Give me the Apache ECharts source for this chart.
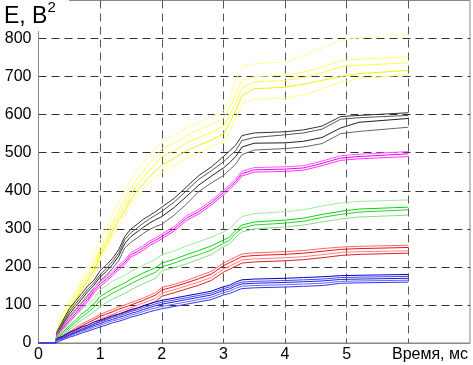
<!DOCTYPE html>
<html><head><meta charset="utf-8">
<script src="https://cdn.jsdelivr.net/npm/echarts@6/dist/echarts.min.js"></script>
<style>html,body{margin:0;padding:0;background:#fff}#c{width:473px;height:365px}</style>
</head><body><div id="c"></div>
<script>
const xs = [0,0.28,0.3,0.4,0.5,0.6,0.7,0.8,0.9,1.0,1.1,1.2,1.3,1.4,1.5,1.6,1.7,1.8,1.9,2.0,2.2,2.4,2.6,2.8,3.0,3.1,3.2,3.3,3.5,4.0,4.3,4.6,4.9,5.2,6.0];
const yTicks = [0,100,200,300,400,500,600,700,800];
const xTicks = [0,1,2,3,4,5];

const yellow1 = [0,0,40,80,110,140,170,200,230,270,300,340,370,400,430,455,475,495,510,530,545,565,580,595,610,640,690,725,734,738,755,775,795,802,812];
const yellow2 = [0,0,35,70,100,130,158,185,212,250,280,318,348,378,408,432,452,472,490,510,525,545,560,575,590,618,655,690,700,704,712,725,742,746,752];
const yellow3 = [0,0,30,62,92,120,148,175,200,240,268,305,335,362,392,416,435,455,470,490,505,525,540,553,570,598,632,670,686,690,698,710,726,730,736];
const yellow4 = [0,0,25,55,84,112,140,165,190,230,258,292,322,348,378,400,418,438,452,468,485,505,520,533,550,578,612,650,668,672,680,690,700,708,716];
const yellow5 = [0,0,20,48,76,102,130,155,178,218,245,280,308,335,365,386,404,422,436,448,465,486,500,515,530,556,590,628,640,644,652,668,685,695,705];

const black1 = [0,0,30,60,90,110,130,150,165,190,205,222,245,280,300,312,325,335,345,357,380,410,440,462,490,505,520,545,552,555,560,570,595,598,605];
const black2 = [0,0,26,55,82,103,122,142,158,180,196,214,236,272,290,302,315,326,336,346,370,400,430,452,476,491,506,532,540,547,552,562,588,592,598];
const black3 = [0,0,22,50,75,96,115,135,152,173,188,206,228,262,280,292,304,315,324,332,356,385,415,438,460,474,490,515,525,526,530,540,565,580,590];
const black4 = [0,0,18,44,68,88,106,126,144,163,178,196,216,250,265,276,288,298,306,312,336,365,398,420,440,455,470,495,507,511,515,524,550,556,567];

const magenta1 = [0,0,24,45,66,84,104,121,144,161,174,189,204,218,238,246,256,268,276,286,306,334,351,374,401,416,431,451,461,463,466,478,492,496,503];
const magenta2 = [0,0,20,40,60,78,98,115,138,155,168,183,198,212,232,240,250,262,270,280,300,328,345,368,395,410,425,445,455,457,460,472,486,490,497];
const magenta3 = [0,0,17,36,55,73,92,109,132,149,162,177,192,206,226,234,244,256,264,274,294,322,339,362,389,404,419,439,449,451,454,466,480,484,490];

const green1 = [0,0,18,35,52,70,88,100,118,140,150,162,170,178,188,196,205,212,220,232,242,255,266,278,292,300,318,332,340,345,350,360,368,372,376];
const green2 = [0,0,15,30,45,60,76,88,103,122,132,142,150,158,168,176,184,191,198,210,220,232,243,255,270,278,296,310,318,323,328,338,346,352,357];
const green3 = [0,0,12,26,40,54,68,80,94,112,121,131,139,147,156,164,172,179,186,200,210,222,232,244,262,270,288,302,310,315,320,330,338,344,350];
const green4 = [0,0,10,22,35,47,60,70,82,96,106,115,123,130,140,148,156,163,170,190,198,208,220,232,253,261,278,292,300,305,310,318,326,331,336];

const red1 = [0,0,12,20,30,40,50,58,66,75,82,88,95,100,106,112,118,125,132,146,154,164,176,188,210,218,226,234,237,240,243,248,252,254,257];
const red2 = [0,0,10,18,27,36,45,53,61,70,76,82,89,94,100,106,112,119,126,139,148,158,169,181,203,211,219,227,230,233,236,241,246,248,251];
const red3 = [0,0,8,15,24,32,40,47,55,63,69,75,82,87,93,99,105,111,117,131,140,150,160,172,194,202,210,218,221,224,227,232,238,240,242];
const red4 = [0,0,6,12,20,28,35,42,50,58,63,69,75,80,86,91,97,103,109,123,132,142,152,164,186,194,202,210,213,216,219,224,230,233,236];

const blue1 = [0,0,12,18,28,34,42,47,55,60,66,72,76,82,88,92,98,103,108,112,118,124,130,136,148,152,160,166,168,170,172,174,177,178,180];
const blue2 = [0,0,10,15,24,30,37,43,50,55,61,67,71,77,83,87,93,98,103,107,113,119,125,131,143,147,155,160,162,164,166,168,172,173,175];
const blue3 = [0,0,8,13,21,27,33,39,46,51,57,62,67,72,78,82,88,93,98,102,108,114,120,126,138,142,150,155,157,159,161,163,167,168,170];
const blue4 = [0,0,7,11,18,24,30,35,42,47,52,58,62,67,73,77,83,88,92,96,102,108,114,120,132,136,144,149,151,153,155,157,162,163,165];
const blue5 = [0,0,5,9,15,20,26,31,37,42,47,53,57,62,68,72,77,82,86,90,96,102,108,114,126,130,137,143,145,147,149,151,157,158,160];

const lines = [
  [yellow1,'#ffffa0'],[yellow2,'#ffff70'],[yellow3,'#ffff40'],[yellow4,'#f2f200'],[yellow5,'#ffff88'],
  [black1,'#333333'],[black2,'#555555'],[black3,'#222222'],[black4,'#666666'],
  [magenta1,'#ff55ff'],[magenta2,'#ee00ee'],[magenta3,'#ff33ff'],
  [green1,'#99ee99'],[green2,'#00dd00'],[green3,'#33cc33'],[green4,'#88dd88'],
  [red1,'#ff6666'],[red2,'#ee1111'],[red3,'#ff8080'],[red4,'#dd2222'],
  [blue1,'#0000cc'],[blue2,'#4444ff'],[blue3,'#2222dd'],[blue4,'#6666ff'],[blue5,'#3333ee']
];

const font = '"Liberation Sans", Arial, sans-serif';
const chart = echarts.init(document.getElementById('c'), null, {renderer:'canvas'});
chart.setOption({
  animation: false,
  backgroundColor: '#fff',
  grid: {left: 38.5, right: 0.5, top: 0.5, bottom: 22, show: true, borderColor: '#888', borderWidth: 1, containLabel: false},
  xAxis: {
    type: 'value', min: 0, max: 7, interval: 1,
    axisLine: {show: true, lineStyle: {color: '#888', width: 1}},
    axisTick: {show: false},
    axisLabel: {margin: 4, color: '#000', fontSize: 16, fontFamily: font,
      formatter: v => xTicks.indexOf(v) >= 0 ? String(v) : ''},
    splitLine: {show: true, showMinLine: false, showMaxLine: false, lineStyle: {color: '#555', type: [8, 5], width: 1}}
  },
  yAxis: {
    type: 'value', min: 0, max: 900, interval: 100,
    axisLine: {show: true, lineStyle: {color: '#888', width: 1}},
    axisTick: {show: false},
    axisLabel: {margin: 7, color: '#000', fontSize: 16, fontFamily: font,
      formatter: v => yTicks.indexOf(v) >= 0 ? String(v) : ''},
    splitLine: {show: true, showMinLine: false, showMaxLine: false, lineStyle: {color: '#333', type: [8, 5], width: 1}}
  },
  graphic: [
    {type: 'rect', left: 0, top: 0, shape: {width: 69, height: 31}, style: {fill: '#fff'}, z: 100},
    {type: 'text', left: 4, top: 0, z: 101, style: {
      text: '{a|E, B}{b|2}', rich: {
        a: {fontSize: 23, fontFamily: font, fill: '#000', verticalAlign: 'bottom', lineHeight: 28},
        b: {fontSize: 15, fontFamily: font, fill: '#000', verticalAlign: 'top', lineHeight: 28, padding: [0,0,13,0]}
      }}},
    {type: 'text', right: 5, top: 347, z: 101, style: {text: 'Время, мс', fontSize: 16, fontFamily: font, fill: '#000'}}
  ],
  series: lines.map(([arr, color]) => ({
    type: 'line', showSymbol: false, symbol: 'none',
    data: xs.map((x, i) => [x, arr[i]]),
    lineStyle: {color: color, width: 1},
    emphasis: {disabled: true}
  }))
});
</script></body></html>
